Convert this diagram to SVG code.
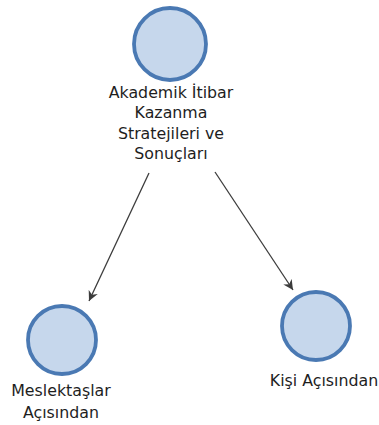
<svg xmlns="http://www.w3.org/2000/svg" width="379" height="425" viewBox="0 0 379 425">
<defs>
<style>
.node circle{fill:#c6d7ec;stroke:#4a79b3;stroke-width:3.8}
.lbl{font-family:"DejaVu Sans",Verdana,sans-serif;font-size:15.8px;fill:#1e1e1e;text-anchor:middle}
.edge{stroke:#3c3c3c;stroke-width:1.3;fill:none}
</style>
<marker id="arr" viewBox="0 0 10 10" refX="10" refY="5" markerWidth="10" markerHeight="10" markerUnits="userSpaceOnUse" orient="auto">
<path d="M0,0 L10,5 L0,10 L3,5 Z" fill="#3c3c3c"/>
</marker>
</defs>
<rect width="379" height="425" fill="#ffffff"/>
<g id="connectors">
<line class="edge" x1="149" y1="173" x2="89" y2="301" marker-end="url(#arr)"/>
<line class="edge" x1="215" y1="172" x2="293" y2="290" marker-end="url(#arr)"/>
</g>
<g id="node-akademik" class="node">
<circle cx="170" cy="44" r="36"/>
<text class="lbl" x="171" y="98">Akademik İtibar</text>
<text class="lbl" x="171" y="118">Kazanma</text>
<text class="lbl" x="171" y="139">Stratejileri ve</text>
<text class="lbl" x="171" y="159">Sonuçları</text>
</g>
<g id="node-meslektaslar" class="node">
<circle cx="62" cy="340" r="34"/>
<text class="lbl" x="61" y="396">Meslektaşlar</text>
<text class="lbl" x="61" y="418">Açısından</text>
</g>
<g id="node-kisi" class="node">
<circle cx="316" cy="326" r="34"/>
<text class="lbl" x="324" y="386" font-size="15px">Kişi Açısından</text>
</g>
</svg>
